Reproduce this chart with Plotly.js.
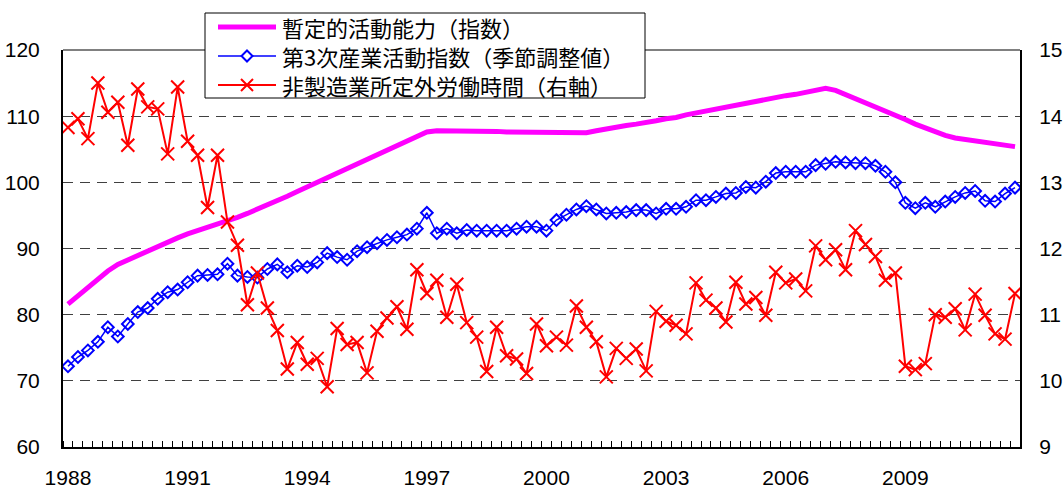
<!DOCTYPE html>
<html>
<head>
<meta charset="utf-8">
<script src="https://cdn.plot.ly/plotly-3.0.1.min.js"></script>
<style>
  html, body { margin: 0; padding: 0; background: #ffffff; }
  #chart { width: 1063px; height: 489px; }
</style>
</head>
<body>
<div id="chart"></div>
<script>
// Quarterly series, 1988Q1 – 2011Q4
const yearLabels = ['1988', '1991', '1994', '1997', '2000', '2003', '2006', '2009'];

const seriesNames = [
  '暫定的活動能力（指数）',
  '第3次産業活動指数（季節調整値）',
  '非製造業所定外労働時間（右軸）'
];

// 暫定的活動能力（指数）
const capacityIndex = [
  81.6, 82.9, 84.2, 85.4, 86.6, 87.6, 88.3, 88.9, 89.6, 90.2, 90.9, 91.6,
  92.2, 92.7, 93.1, 93.6, 94.1, 94.7, 95.3, 95.9, 96.5, 97.2, 97.9, 98.6,
  99.3, 100.0, 100.7, 101.4, 102.1, 102.8, 103.5, 104.2, 104.9, 105.6, 106.3, 107.0,
  107.6, 107.8, 107.8, 107.8, 107.7, 107.7, 107.7, 107.7, 107.6, 107.6, 107.6, 107.6,
  107.5, 107.5, 107.5, 107.5, 107.5, 107.8, 108.1, 108.3, 108.6, 108.8, 109.0, 109.3,
  109.6, 109.8, 110.2, 110.5, 110.8, 111.1, 111.4, 111.6, 111.9, 112.2, 112.5, 112.8,
  113.1, 113.3, 113.6, 113.9, 114.2, 113.9, 113.3, 112.6, 112.0, 111.4, 110.8, 110.2,
  109.5, 108.8, 108.2, 107.6, 107.1, 106.7, 106.5, 106.3, 106.1, 105.9, 105.7, 105.4
];

// 第3次産業活動指数（季節調整値）
const tertiaryIndex = [
  72.2, 73.6, 74.6, 75.9, 78.1, 76.7, 78.6, 80.4, 81.0, 82.4, 83.4, 83.8,
  84.9, 85.9, 86.0, 86.1, 87.7, 85.9, 85.7, 85.6, 86.9, 87.6, 86.4, 87.4,
  87.2, 87.9, 89.3, 88.7, 88.3, 89.6, 90.2, 90.8, 91.3, 91.7, 92.1, 93.0,
  95.4, 92.3, 93.0, 92.3, 92.8, 92.7, 92.7, 92.7, 92.7, 93.0, 93.3, 93.3,
  92.7, 94.3, 95.1, 95.9, 96.4, 95.9, 95.3, 95.4, 95.5, 95.8, 95.8, 95.3,
  96.0, 96.0, 96.3, 97.3, 97.3, 97.8, 98.3, 98.4, 99.3, 99.2, 100.1, 101.4,
  101.6, 101.6, 101.6, 102.6, 102.8, 103.1, 103.0, 102.9, 102.9, 102.5, 101.6, 100.0,
  96.9, 96.1, 96.9, 96.3, 97.1, 97.8, 98.4, 98.7, 97.2, 97.1, 98.3, 99.2
];

// 非製造業所定外労働時間（右軸）
const overtimeHours = [
  13.83, 13.96, 13.66, 14.50, 14.06, 14.21, 13.56, 14.41, 14.14, 14.11, 13.43, 14.44,
  13.62, 13.41, 12.62, 13.41, 12.40, 12.05, 11.15, 11.63, 11.10, 10.76, 10.18, 10.58,
  10.25, 10.34, 9.91, 10.79, 10.55, 10.58, 10.12, 10.75, 10.95, 11.12, 10.78, 11.68,
  11.32, 11.52, 10.96, 11.46, 10.88, 10.66, 10.14, 10.81, 10.38, 10.33, 10.11, 10.86,
  10.53, 10.66, 10.54, 11.13, 10.81, 10.59, 10.06, 10.49, 10.34, 10.48, 10.15, 11.05,
  10.90, 10.84, 10.71, 11.48, 11.22, 11.10, 10.89, 11.49, 11.16, 11.26, 10.99, 11.64,
  11.48, 11.54, 11.36, 12.04, 11.83, 11.98, 11.68, 12.27, 12.06, 11.88, 11.52, 11.63,
  10.22, 10.17, 10.26, 11.00, 10.96, 11.09, 10.77, 11.31, 10.99, 10.71, 10.63, 11.32
];

const quarterIdx = capacityIndex.map((_, i) => i);
const labelIdx = yearLabels.map((_, k) => k * 12);

const jpFont = '"Noto Sans CJK JP", "Noto Sans", sans-serif';
const numFont = '"Liberation Sans", Arial, sans-serif';

const MAGENTA = '#FF00FF', BLUE = '#0000FF', RED = '#FF0000';

const traces = [
  {
    x: quarterIdx, y: capacityIndex, name: seriesNames[0],
    type: 'scatter', mode: 'lines',
    line: { color: MAGENTA, width: 5 },
    yaxis: 'y'
  },
  {
    x: quarterIdx, y: tertiaryIndex, name: seriesNames[1],
    type: 'scatter', mode: 'lines+markers',
    line: { color: BLUE, width: 1.5 },
    marker: { symbol: 'diamond-open', size: 9, color: BLUE, line: { color: BLUE, width: 2 } },
    yaxis: 'y'
  },
  {
    x: quarterIdx, y: overtimeHours, name: seriesNames[2],
    type: 'scatter', mode: 'lines+markers',
    line: { color: RED, width: 2 },
    marker: { symbol: 'x-thin-open', size: 13, color: RED, line: { color: RED, width: 2 } },
    yaxis: 'y2'
  }
];

// Plot area in pixels, used to place the hand-built legend box
const W = 1063, H = 489;
const M = { l: 63, r: 43, t: 50, b: 42 };
const plotW = W - M.l - M.r, plotH = H - M.t - M.b;
const px = v => (v - M.l) / plotW;
const py = v => (H - M.b - v) / plotH;

const legendRows = [27, 56, 85];
const sampleX0 = 218, sampleX1 = 276, sampleMid = 247, textX = 281;

const shapes = [
  // solid top border of the plotting area
  { type: 'line', xref: 'paper', yref: 'paper', x0: 0, x1: 1, y0: 1, y1: 1,
    line: { color: '#808080', width: 2 }, layer: 'below' },
  // legend frame
  { type: 'rect', xref: 'paper', yref: 'paper',
    x0: px(205), x1: px(645), y0: py(98), y1: py(13),
    line: { color: '#000000', width: 1 }, fillcolor: '#ffffff', layer: 'above' },
  // legend line samples
  { type: 'line', xref: 'paper', yref: 'paper', x0: px(sampleX0), x1: px(sampleX1),
    y0: py(legendRows[0]), y1: py(legendRows[0]), line: { color: MAGENTA, width: 5 } },
  { type: 'line', xref: 'paper', yref: 'paper', x0: px(sampleX0), x1: px(sampleX1),
    y0: py(legendRows[1]), y1: py(legendRows[1]), line: { color: BLUE, width: 1.5 } },
  { type: 'line', xref: 'paper', yref: 'paper', x0: px(sampleX0), x1: px(sampleX1),
    y0: py(legendRows[2]), y1: py(legendRows[2]), line: { color: RED, width: 2 } },
  // legend marker glyphs
  { type: 'path', xref: 'paper', yref: 'paper', xsizemode: 'pixel', ysizemode: 'pixel',
    xanchor: px(sampleMid), yanchor: py(legendRows[1]),
    path: 'M0,5.5 L5.5,0 L0,-5.5 L-5.5,0 Z',
    line: { color: BLUE, width: 2 }, fillcolor: '#ffffff' },
  { type: 'path', xref: 'paper', yref: 'paper', xsizemode: 'pixel', ysizemode: 'pixel',
    xanchor: px(sampleMid), yanchor: py(legendRows[2]),
    path: 'M-6,-6 L6,6 M-6,6 L6,-6',
    line: { color: RED, width: 2 } }
];

const annotations = seriesNames.map((name, k) => ({
  xref: 'paper', yref: 'paper', x: px(textX), y: py(legendRows[k]),
  xanchor: 'left', yanchor: 'middle', showarrow: false, borderpad: 0,
  text: name, font: { family: jpFont, size: 22, color: '#000000' }
}));

const layout = {
  width: W, height: H,
  margin: M,
  paper_bgcolor: '#ffffff', plot_bgcolor: '#ffffff',
  font: { family: numFont, size: 21, color: '#000000' },
  showlegend: false,
  xaxis: {
    range: [-0.5, 95.5],
    tickmode: 'array', tickvals: labelIdx, ticktext: yearLabels,
    ticks: '', showgrid: false, zeroline: false,
    showline: true, linecolor: '#000000', linewidth: 2,
    tickfont: { family: numFont, size: 21 },
    ticklabelstandoff: 11,
    minor: { tick0: -0.5, dtick: 1, ticks: 'inside', ticklen: 6, tickwidth: 1, tickcolor: '#000000', showgrid: false }
  },
  yaxis: {
    range: [60, 120], dtick: 10, tick0: 60,
    showgrid: true, gridcolor: '#404040', gridwidth: 1, griddash: '10px,7px',
    zeroline: false, ticks: '',
    showline: true, linecolor: '#000000', linewidth: 2,
    tickfont: { family: numFont, size: 21 },
    ticklabelstandoff: 17
  },
  yaxis2: {
    range: [9, 15], dtick: 1, tick0: 9,
    overlaying: 'y', side: 'right',
    showgrid: false, zeroline: false, ticks: '',
    showline: true, linecolor: '#000000', linewidth: 2,
    tickfont: { family: numFont, size: 21 },
    ticklabelstandoff: 13
  },
  shapes: shapes,
  annotations: annotations
};

Plotly.newPlot('chart', traces, layout, { displayModeBar: false, staticPlot: true });
</script>
</body>
</html>
